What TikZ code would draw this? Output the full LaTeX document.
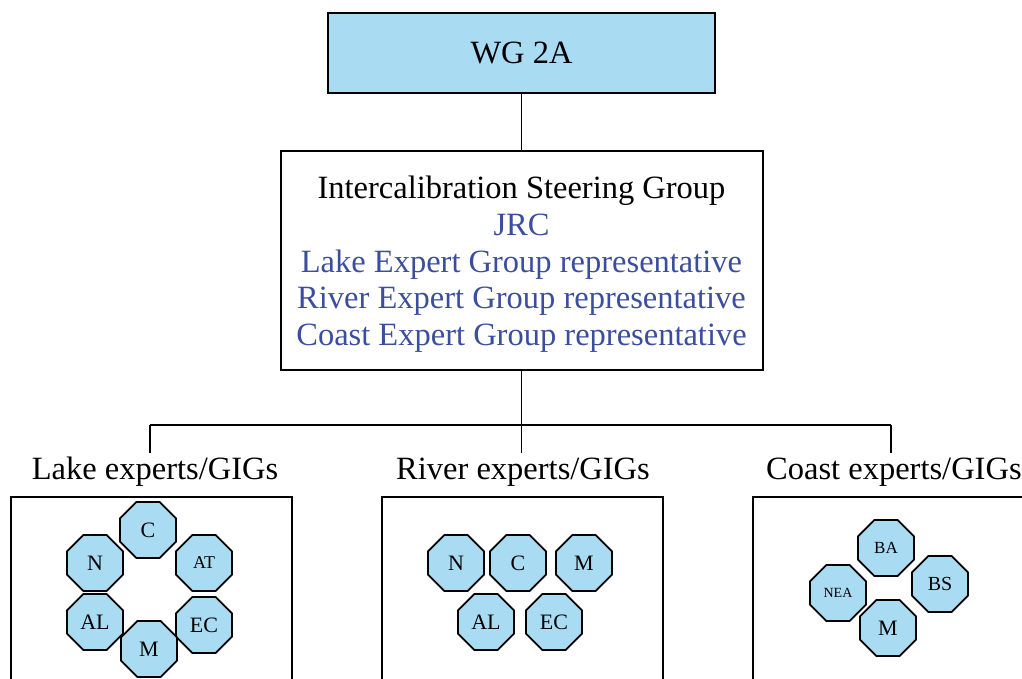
\documentclass[tikz,border=0pt]{standalone}
\usepackage{fontspec}
\setmainfont{Liberation Serif}
\usetikzlibrary{shapes.geometric}
\definecolor{octfill}{HTML}{A9DCF3}
\definecolor{txtblue}{HTML}{3B4E9E}
\begin{document}
\begin{tikzpicture}[x=1pt,y=-1pt,
  boxline/.style={draw=black,line width=2pt},
  link/.style={draw=black,line width=1.5pt},
  octo/.style={regular polygon,regular polygon sides=8,minimum size=60.6pt,inner sep=0pt,
    draw=black,line width=1.8pt,fill=octfill,font=\fontsize{22}{24}\selectfont},
  grouplbl/.style={font=\fontsize{32.5}{36}\selectfont,inner sep=0pt},
  groupbox/.style={boxline,minimum width=281pt,minimum height=210pt,inner sep=0pt}]
\useasboundingbox (0,0) rectangle (1022,678);
\clip (0,0) rectangle (1022,678);
% top boxes
\node[boxline,fill=octfill,minimum width=387pt,minimum height=80pt,inner sep=0pt,
  font=\fontsize{32.5}{36}\selectfont] (wg) at (521.5,53) {WG 2A};
\node[boxline,minimum width=482pt,minimum height=219pt,inner sep=0pt,align=center,
  font=\fontsize{32.5}{36.8}\selectfont] (isg) at (521.5,260.5)
  {\rule{0pt}{30pt}Intercalibration Steering Group\\
   \textcolor{txtblue}{JRC}\\
   \textcolor{txtblue}{Lake Expert Group representative}\\
   \textcolor{txtblue}{River Expert Group representative}\\
   \textcolor{txtblue}{Coast Expert Group representative}};
% junctions
\coordinate (j) at (521.5,425);
\coordinate (lj) at (150,425);
\coordinate (rj) at (891,425);
\coordinate (ld) at (150,453);
\coordinate (md) at (521.5,453);
\coordinate (rd) at (891,453);
\draw[link] (wg.south) -- (isg.north);
\draw[link] (isg.south) -- (j);
\draw[link] (lj) -- (rj);
\draw[link] (lj) -- (ld);
\draw[link] (j) -- (md);
\draw[link] (rj) -- (rd);
% group labels
\node[grouplbl] (lakelbl) at (155,472) {Lake experts/GIGs};
\node[grouplbl] (riverlbl) at (523,472) {River experts/GIGs};
\node[grouplbl,anchor=west] (coastlbl) at (766,472) {Coast experts/GIGs};
% group boxes
\node[groupbox] (lakebox) at (151.5,602) {};
\node[groupbox] (riverbox) at (522,602) {};
\node[groupbox] (coastbox) at (893,602) {};
% lake octagons
\node[octo] (lC) at (148,530) {C};
\node[octo] (lN) at (95,563) {N};
\node[octo,font=\fontsize{18}{20}\selectfont] (lAT) at (204,563) {AT};
\node[octo] (lAL) at (95,622) {AL};
\node[octo] (lEC) at (204,625) {EC};
\node[octo] (lM) at (149,649) {M};
% river octagons
\node[octo] (rN) at (456,563) {N};
\node[octo] (rC) at (518,563) {C};
\node[octo] (rM) at (584,563) {M};
\node[octo] (rAL) at (486,622) {AL};
\node[octo] (rEC) at (554,622) {EC};
% coast octagons
\node[octo,font=\fontsize{17}{19}\selectfont] (cBA) at (886,548) {BA};
\node[octo,font=\fontsize{14}{16}\selectfont] (cNEA) at (838,593) {NEA};
\node[octo,font=\fontsize{20}{22}\selectfont] (cBS) at (940,584) {BS};
\node[octo] (cM) at (888,628) {M};
\end{tikzpicture}
\end{document}
